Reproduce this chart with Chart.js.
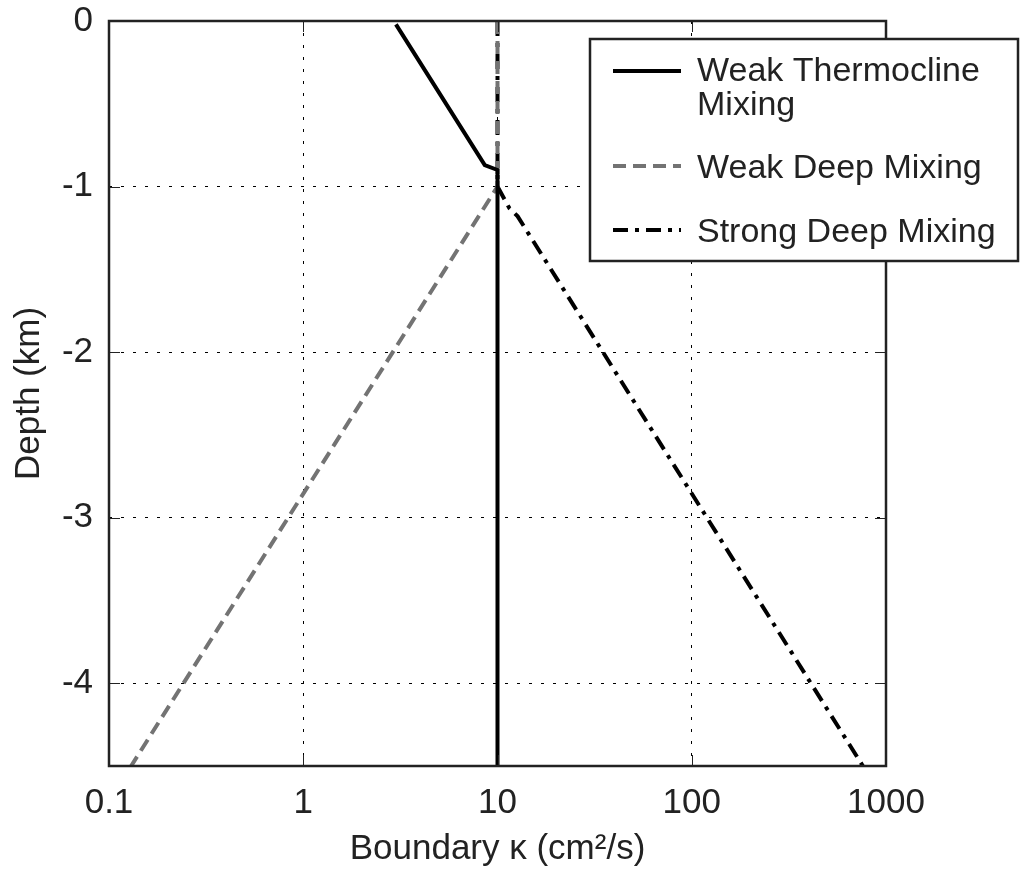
<!DOCTYPE html>
<html>
<head>
<meta charset="utf-8">
<script src="https://cdn.jsdelivr.net/npm/chart.js@4/dist/chart.umd.min.js"></script>
<style>
  html, body { margin: 0; padding: 0; background: #fff; }
</style>
</head>
<body>
<canvas id="kappa" width="1030" height="876"></canvas>
<script>
// boundary diffusivity profiles (kappa in cm^2/s, depth in km)
const thermoKappa = [3.0, 8.6, 10, 10];
const thermoDepth = [-0.02, -0.87, -0.9, -4.5];

const weakDeepKappa = [10, 10, 0.13];
const weakDeepDepth = [0, -1.0, -4.5];

const strongDeepKappa = [10, 10, 11.5, 12.7, 760];
const strongDeepDepth = [0, -1.0, -1.13, -1.18, -4.5];

const xTickValues = [0.1, 1, 10, 100, 1000];
const xTickLabels = ["0.1", "1", "10", "100", "1000"];
const yTickValues = [-4, -3, -2, -1, 0];
const yTickLabels = ["-4", "-3", "-2", "-1", "0"];

const seriesNames = ["Weak Thermocline|Mixing", "Weak Deep Mixing", "Strong Deep Mixing"];

const FONT = "'Liberation Sans', Arial, Helvetica, sans-serif";
const INK = "#222";

function toPoints(xs, ys) {
  return xs.map((x, i) => ({ x: x, y: ys[i] }));
}

const lineStyles = [
  { color: "#000", dash: [] },
  { color: "#737373", dash: [13, 7] },
  { color: "#000", dash: [15, 7, 4, 7] }
];

// frame box plus the short inward tick marks on all four sides
const framePlugin = {
  id: "frame",
  afterDraw(chart) {
    const { ctx, chartArea: a, scales } = chart;
    const len = 11;
    ctx.save();
    ctx.strokeStyle = INK;
    ctx.lineWidth = 1;
    ctx.setLineDash([]);
    xTickValues.forEach(v => {
      const px = Math.round(scales.x.getPixelForValue(v)) + 0.5;
      ctx.beginPath();
      ctx.moveTo(px, a.bottom); ctx.lineTo(px, a.bottom - len);
      ctx.moveTo(px, a.top); ctx.lineTo(px, a.top + len);
      ctx.stroke();
    });
    yTickValues.forEach(v => {
      const py = Math.round(scales.y.getPixelForValue(v)) + 0.5;
      ctx.beginPath();
      ctx.moveTo(a.left, py); ctx.lineTo(a.left + len, py);
      ctx.moveTo(a.right, py); ctx.lineTo(a.right - len, py);
      ctx.stroke();
    });
    ctx.lineWidth = 2.5;
    ctx.strokeRect(a.left, a.top, a.right - a.left, a.bottom - a.top);
    ctx.restore();
  }
};

// boxed legend with a two-line first entry
const legendPlugin = {
  id: "boxLegend",
  afterDraw(chart) {
    const ctx = chart.ctx;
    const box = { x: 590, y: 39, w: 428, h: 222 };
    const rows = [
      { lineY: 71, baselines: [81, 115] },
      { lineY: 166, baselines: [178] },
      { lineY: 230, baselines: [242] }
    ];
    ctx.save();
    ctx.fillStyle = "#fff";
    ctx.fillRect(box.x, box.y, box.w, box.h);
    ctx.strokeStyle = INK;
    ctx.lineWidth = 2.5;
    ctx.strokeRect(box.x, box.y, box.w, box.h);
    ctx.font = "34px " + FONT;
    ctx.textBaseline = "alphabetic";
    rows.forEach((r, i) => {
      const st = lineStyles[i];
      ctx.strokeStyle = st.color;
      ctx.lineWidth = 4;
      ctx.setLineDash(st.dash);
      ctx.beginPath();
      ctx.moveTo(613, r.lineY);
      ctx.lineTo(681, r.lineY);
      ctx.stroke();
      ctx.setLineDash([]);
      ctx.fillStyle = INK;
      seriesNames[i].split("|").forEach((t, j) => {
        ctx.fillText(t, 697, r.baselines[j]);
      });
    });
    ctx.restore();
  }
};

const datasets = [
  toPoints(thermoKappa, thermoDepth),
  toPoints(weakDeepKappa, weakDeepDepth),
  toPoints(strongDeepKappa, strongDeepDepth)
].map((pts, i) => ({
  label: seriesNames[i].replace("|", " "),
  data: pts,
  showLine: true,
  borderColor: lineStyles[i].color,
  borderDash: lineStyles[i].dash,
  borderWidth: 4,
  pointRadius: 0,
  tension: 0,
  fill: false
}));

new Chart(document.getElementById("kappa").getContext("2d"), {
  type: "scatter",
  data: { datasets: datasets },
  options: {
    responsive: false,
    devicePixelRatio: 1,
    animation: false,
    layout: { padding: { top: 21, right: 144, left: 0, bottom: 0 } },
    plugins: {
      legend: { display: false },
      tooltip: { enabled: false }
    },
    scales: {
      x: {
        type: "logarithmic",
        min: 0.1,
        max: 1000,
        afterBuildTicks: s => { s.ticks = xTickValues.map(v => ({ value: v })); },
        afterFit: s => { s.height = 110; s.paddingLeft = 0; s.paddingRight = 0; },
        ticks: {
          color: INK,
          font: { family: FONT, size: 35 },
          padding: 16,
          autoSkip: false,
          maxRotation: 0,
          callback: (v, i) => xTickLabels[i]
        },
        grid: { color: "#000", lineWidth: 1, drawTicks: false },
        border: { display: false, dash: [3, 9] },
        title: {
          display: true,
          text: "Boundary κ (cm²/s)",
          color: INK,
          font: { family: FONT, size: 35 },
          padding: { top: 0, bottom: 6 }
        }
      },
      y: {
        type: "linear",
        min: -4.5,
        max: 0,
        afterBuildTicks: s => { s.ticks = yTickValues.map(v => ({ value: v })); },
        afterFit: s => { s.width = 109; s.paddingTop = 0; s.paddingBottom = 0; },
        ticks: {
          color: INK,
          font: { family: FONT, size: 35 },
          padding: 16,
          callback: (v, i) => yTickLabels[i]
        },
        grid: { color: "#000", lineWidth: 1, drawTicks: false },
        border: { display: false, dash: [3, 9] },
        title: {
          display: true,
          text: "Depth (km)",
          color: INK,
          font: { family: FONT, size: 35 },
          padding: { top: 8, bottom: 0 }
        }
      }
    }
  },
  plugins: [framePlugin, legendPlugin]
});
</script>
</body>
</html>
